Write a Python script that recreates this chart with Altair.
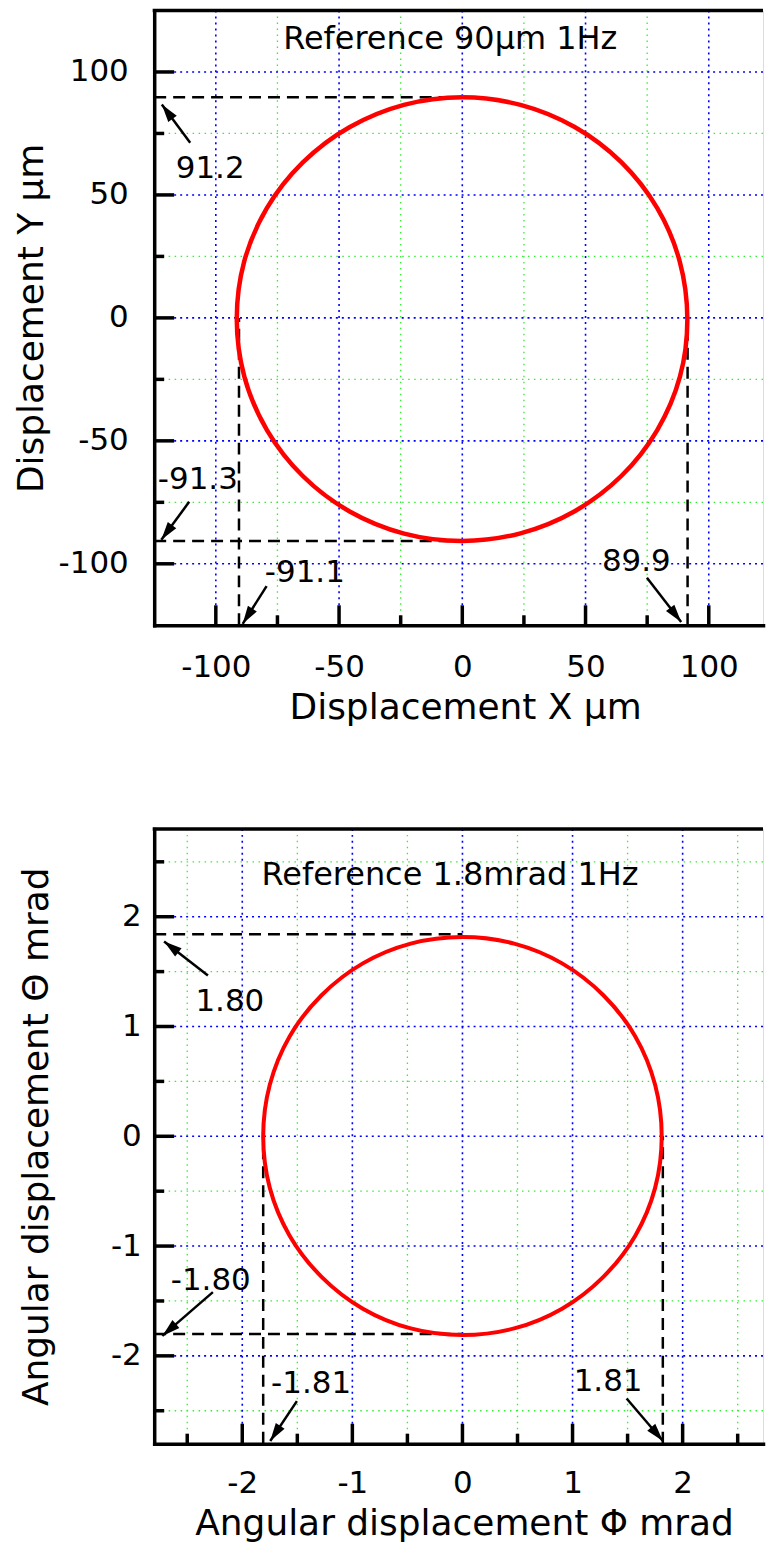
import altair as alt
import pandas as pd

FONT = "DejaVu Sans, Verdana, sans-serif"
RED = "#ff0000"
BLUE = "#0000ff"
GREEN = "#33ee33"

# ---------------- top panel: linear displacement (µm) ----------------
t_xdom = [-125, 122]
t_ydom = [-125, 125]
t_xmaj = [-100, -50, 0, 50, 100]
t_xmin = [-75, -25, 25, 75]
t_ymaj = [-100, -50, 0, 50, 100]
t_ymin = [-75, -25, 25, 75]
t_circ_x = [91.3, 88.2, 79.1, 64.5, 45.6, 23.6, 0.0, -23.7, -45.8, -64.7, -79.3, -88.5,
            -91.5, -88.4, -79.2, -64.6, -45.7, -23.6, 0.0, 23.6, 45.6, 64.5, 79.1, 88.3]
t_circ_y = [-0.5, 23.0, 44.6, 63.3, 77.6, 86.6, 89.7, 86.6, 77.5, 63.2, 44.6, 22.9,
            -0.6, -24.0, -45.7, -64.4, -78.7, -87.7, -90.7, -87.6, -78.6, -64.3, -45.6, -23.9]
t_dash_x1 = [-125, -125, -90.6, 91.4]
t_dash_x2 = [0, 0, -90.6, 91.4]
t_dash_y1 = [89.7, -90.7, -125, -125]
t_dash_y2 = [89.7, -90.7, 0, 0]
t_arr_tx = [-110.4, -110.8, -79.4, 74.9]
t_arr_ty = [71.2, -74.8, -109.1, -105.7]
t_arr_hx = [-121.9, -122.1, -89.1, 88.8]
t_arr_hy = [86.8, -90.2, -124.4, -123.7]
t_arr_ang = [323.6, 216.4, 212.5, 142.3]
t_lab_text = ["91.2", "-91.3", "-91.1", "89.9"]
t_lab_x = [-102.3, -107.3, -63.9, 70.6]
t_lab_y = [56.9, -69.6, -107.5, -102.8]
t_title = "Reference 90\u03bcm 1Hz"
t_title_xy = (-4.9, 109.5)
t_xtitle = "Displacement X \u03bcm"
t_ytitle = "Displacement Y \u03bcm"

# ---------------- bottom panel: angular displacement (mrad) ----------------
b_xdom = [-2.8, 2.73]
b_ydom = [-2.8, 2.8]
b_xmaj = [-2, -1, 0, 1, 2]
b_xmin = [-2.5, -1.5, -0.5, 0.5, 1.5, 2.5]
b_ymaj = [-2, -1, 0, 1, 2]
b_ymin = [-2.5, -1.5, -0.5, 0.5, 1.5, 2.5]
b_circ_x = [1.81, 1.75, 1.57, 1.28, 0.905, 0.47, 0.0, -0.47, -0.905, -1.28, -1.57, -1.75,
            -1.81, -1.75, -1.57, -1.28, -0.905, -0.47, 0.0, 0.47, 0.905, 1.28, 1.57, 1.75]
b_circ_y = [0.0, 0.47, 0.91, 1.285, 1.575, 1.755, 1.815, 1.755, 1.575, 1.285, 0.91, 0.47,
            0.0, -0.47, -0.905, -1.28, -1.57, -1.75, -1.81, -1.75, -1.57, -1.28, -0.905, -0.47]
b_dash_x1 = [-2.8, -2.8, -1.81, 1.82]
b_dash_x2 = [0, 0, -1.81, 1.82]
b_dash_y1 = [1.84, -1.80, -2.8, -2.8]
b_dash_y2 = [1.84, -1.80, 0, 0]
b_arr_tx = [-2.312, -2.267, -1.504, 1.491]
b_arr_ty = [1.464, -1.419, -2.412, -2.388]
b_arr_hx = [-2.71, -2.726, -1.746, 1.821]
b_arr_hy = [1.775, -1.818, -2.775, -2.775]
b_arr_ang = [307.7, 229.0, 213.6, 139.6]
b_lab_text = ["1.80", "-1.80", "-1.81", "1.81"]
b_lab_x = [-2.113, -2.286, -1.375, 1.323]
b_lab_y = [1.144, -1.398, -2.342, -2.324]
b_title = "Reference 1.8mrad 1Hz"
b_title_xy = (-0.113, 2.288)
b_xtitle = "Angular displacement \u03a6 mrad"
b_ytitle = "Angular displacement \u0398 mrad"

W = 610
H = 616
ARROW = "M0,0L0.38,1.3L-0.38,1.3Z"


def panel(xdom, ydom, xmaj, xmin, ymaj, ymin, cx, cy, dx1, dx2, dy1, dy2,
          atx, aty, ahx, ahy, aang, ltext, lx, ly, title, title_xy,
          xtitle, ytitle, ylabpad, ytitle_x, xlabpad, xtitle_y, xtitle_x, lw):
    xs = alt.Scale(domain=xdom, nice=False, zero=False)
    ys = alt.Scale(domain=ydom, nice=False, zero=False)
    common = dict(ticks=False, grid=False, domain=True, domainColor="black",
                  domainWidth=3.5, domainCap="square", labelFont=FONT, labelFontSize=31,
                  labelColor="black", labelExpr="'' + datum.value",
                  labelFlush=False, labelOverlap=False,
                  titleFont=FONT, titleFontSize=36, titleFontWeight="normal",
                  titleColor="black", titleBaseline="alphabetic", titleAlign="center")
    xaxis = alt.Axis(values=xmaj, labelPadding=xlabpad, title=xtitle,
                     titleX=xtitle_x, titleY=xtitle_y, **common)
    yaxis = alt.Axis(values=ymaj, labelPadding=ylabpad, title=ytitle,
                     titleX=ytitle_x, titleY=H / 2, titleAngle=270, **common)

    def X(f):
        return alt.X(f, type="quantitative", scale=xs, axis=xaxis)

    def Y(f):
        return alt.Y(f, type="quantitative", scale=ys, axis=yaxis)

    df_xmin = pd.DataFrame({"v": xmin})
    df_xmaj = pd.DataFrame({"v": xmaj})
    df_ymin = pd.DataFrame({"v": ymin})
    df_ymaj = pd.DataFrame({"v": ymaj})

    g_xmin = alt.Chart(df_xmin).mark_rule(color=GREEN, strokeWidth=1.3, strokeDash=[1.5, 4.5]).encode(
        x=X("v"))
    g_ymin = alt.Chart(df_ymin).mark_rule(color=GREEN, strokeWidth=1.3, strokeDash=[1.5, 4.5]).encode(
        y=Y("v"))
    g_xmaj = alt.Chart(df_xmaj).mark_rule(color=BLUE, strokeWidth=1.6, strokeDash=[2, 4]).encode(
        x=X("v"))
    g_ymaj = alt.Chart(df_ymaj).mark_rule(color=BLUE, strokeWidth=1.6, strokeDash=[2, 4]).encode(
        y=Y("v"))

    df_dash = pd.DataFrame({"x1": dx1, "x2": dx2, "y1": dy1, "y2": dy2})
    dashed = alt.Chart(df_dash).mark_rule(color="black", strokeWidth=2.5, strokeDash=[12, 7]).encode(
        x=X("x1"), x2="x2", y=Y("y1"), y2="y2")

    df_c = pd.DataFrame({"x": cx, "y": cy, "i": list(range(len(cx)))})
    circ = alt.Chart(df_c).mark_line(color=RED, strokeWidth=lw, interpolate="cardinal-closed").encode(
        x=X("x"), y=Y("y"), order="i:O")

    df_a = pd.DataFrame({"tx": atx, "ty": aty, "hx": ahx, "hy": ahy, "a": aang})
    shafts = alt.Chart(df_a).mark_rule(color="black", strokeWidth=2.5).encode(
        x=X("tx"), y=Y("ty"), x2="hx", y2="hy")
    heads = alt.Chart(df_a).mark_point(shape=ARROW, filled=True, color="black", opacity=1,
                                       size=770, strokeWidth=0).encode(
        x=X("hx"), y=Y("hy"), angle=alt.Angle("a:Q", scale=None))

    df_l = pd.DataFrame({"t": ltext, "x": lx, "y": ly})
    labels = alt.Chart(df_l).mark_text(font=FONT, fontSize=31, color="black", align="center",
                                       baseline="alphabetic").encode(
        x=X("x"), y=Y("y"), text="t:N")

    df_t = pd.DataFrame({"t": [title], "x": [title_xy[0]], "y": [title_xy[1]]})
    ttl = alt.Chart(df_t).mark_text(font=FONT, fontSize=32, color="black", align="center",
                                    baseline="alphabetic").encode(
        x=X("x"), y=Y("y"), text="t:N")

    tk_xmaj = alt.Chart(df_xmaj).mark_rule(color="black", strokeWidth=3.5).encode(
        x=X("v"), y=alt.value(H), y2=alt.value(H - 20))
    tk_xmin = alt.Chart(df_xmin).mark_rule(color="black", strokeWidth=3.5).encode(
        x=X("v"), y=alt.value(H), y2=alt.value(H - 10))
    tk_ymaj = alt.Chart(df_ymaj).mark_rule(color="black", strokeWidth=3.5).encode(
        y=Y("v"), x=alt.value(0), x2=alt.value(20))
    tk_ymin = alt.Chart(df_ymin).mark_rule(color="black", strokeWidth=3.5).encode(
        y=Y("v"), x=alt.value(0), x2=alt.value(10))
    top = alt.Chart(df_t).mark_rule(color="black", strokeWidth=3.5).encode(
        x=alt.value(-1.5), x2=alt.value(W), y=alt.value(0))

    return alt.layer(g_xmin, g_ymin, g_xmaj, g_ymaj, dashed, circ, shafts, heads,
                     labels, ttl, tk_xmaj, tk_xmin, tk_ymaj, tk_ymin, top).properties(
        width=W, height=H)


top_panel = panel(t_xdom, t_ydom, t_xmaj, t_xmin, t_ymaj, t_ymin, t_circ_x, t_circ_y,
                  t_dash_x1, t_dash_x2, t_dash_y1, t_dash_y2,
                  t_arr_tx, t_arr_ty, t_arr_hx, t_arr_hy, t_arr_ang,
                  t_lab_text, t_lab_x, t_lab_y, t_title, t_title_xy,
                  t_xtitle, t_ytitle, ylabpad=26, ytitle_x=-111.5,
                  xlabpad=27, xtitle_y=93, xtitle_x=311.5, lw=4.5)
bottom_panel = panel(b_xdom, b_ydom, b_xmaj, b_xmin, b_ymaj, b_ymin, b_circ_x, b_circ_y,
                     b_dash_x1, b_dash_x2, b_dash_y1, b_dash_y2,
                     b_arr_tx, b_arr_ty, b_arr_hx, b_arr_hy, b_arr_ang,
                     b_lab_text, b_lab_x, b_lab_y, b_title, b_title_xy,
                     b_xtitle, b_ytitle, ylabpad=13, ytitle_x=-106.5,
                     xlabpad=25, xtitle_y=91, xtitle_x=310.5, lw=4.0)

chart = alt.vconcat(top_panel, bottom_panel, spacing=204, bounds="flush").properties(
    padding={"left": 13.5, "top": 6, "right": 0, "bottom": 0}
).configure_view(stroke=None).configure(background="white")

chart.save("out.html", embed_options={"renderer": "svg", "actions": False})
